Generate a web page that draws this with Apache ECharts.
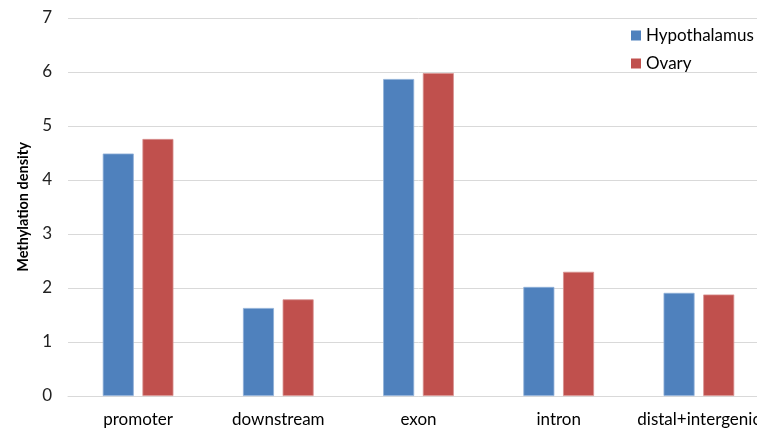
<!DOCTYPE html>
<html><head><meta charset="utf-8">
<script src="https://cdn.jsdelivr.net/npm/echarts@6/dist/echarts.min.js"></script>
<style>html,body{margin:0;padding:0;background:#fff;overflow:hidden;width:757px;height:428px}#c{width:800px;height:428px}</style>
</head><body><div id="c"></div>
<script>
const categories = ['promoter','downstream','exon','intron','distal+intergenic'];
const hypothalamus = [4.49, 1.63, 5.87, 2.02, 1.91];
const ovary = [4.76, 1.79, 5.98, 2.30, 1.88];
const yTicks = [0,1,2,3,4,5,6,7];
const FONT = 'Lato';
const chart = echarts.init(document.getElementById('c'));
chart.setOption({
  animation:false,
  textStyle:{fontFamily:FONT},
  grid:{left:68, top:18, width:701, bottom:31, containLabel:false},
  legend:{
    orient:'vertical', left:626, top:22, itemWidth:10, itemHeight:10, itemGap:11,
    icon:'rect', itemStyle:{borderWidth:0},
    textStyle:{fontFamily:FONT, fontSize:17, color:'#000'},
    data:['Hypothalamus','Ovary']
  },
  xAxis:{
    type:'category', data:categories,
    axisLine:{lineStyle:{color:'#d9d9d9'}}, axisTick:{show:false},
    axisLabel:{fontFamily:FONT, fontSize:17, color:'#000', margin:15, interval:0}
  },
  yAxis:{
    type:'value', min:yTicks[0], max:yTicks[yTicks.length-1], interval:1,
    name:'Methylation density', nameLocation:'middle', nameGap:37,
    nameTextStyle:{fontFamily:FONT, fontSize:14.5, fontWeight:'bold', color:'#000'},
    axisLine:{show:false}, axisTick:{show:false},
    splitLine:{lineStyle:{color:'#d9d9d9', width:1}},
    axisLabel:{fontFamily:FONT, fontSize:17, color:'#222', margin:16}
  },
  series:[
    {name:'Hypothalamus', type:'bar', data:hypothalamus, barWidth:31, barGap:'28%',
     itemStyle:{color:'#4F81BD', borderColor:'#8fb0d8', borderWidth:0.8}},
    {name:'Ovary', type:'bar', data:ovary, barWidth:31, barGap:'28%',
     itemStyle:{color:'#C0504D', borderColor:'#d89290', borderWidth:0.8}}
  ]
});
</script></body></html>
